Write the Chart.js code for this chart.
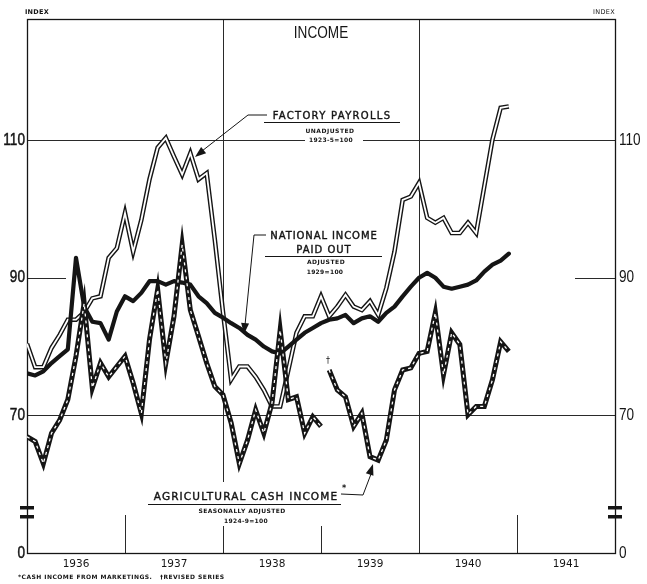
<!DOCTYPE html>
<html>
<head>
<meta charset="utf-8">
<title>Income</title>
<script src="https://cdn.jsdelivr.net/npm/chart.js@4.4.1/dist/chart.umd.min.js"></script>
<style>
  html, body { margin: 0; padding: 0; background: #fff; }
  #incomeChart { display: block; }
</style>
</head>
<body>
<canvas id="incomeChart" width="647" height="584"></canvas>
<script>
// monthly values, index 0 = Jan 1936
const years = ["1936", "1937", "1938", "1939", "1940", "1941"];
const yTicks = [50, 70, 90, 110]; // 50 sits on the broken axis and is printed as 0

const factoryPayrolls = [
  80.4, 77.0, 77.0, 79.8, 81.7, 83.9, 83.9, 85.0, 87.0, 87.3, 92.9, 94.3,
  99.4, 93.8, 98.4, 104.3, 108.9, 110.3, 107.6, 105.0, 108.1, 104.3, 105.2, 95.5,
  85.0, 75.2, 77.1, 77.1, 75.6, 73.7, 71.3, 71.3, 76.6, 82.0, 84.4, 84.4,
  87.3, 84.4, 85.8, 87.5, 85.8, 85.3, 86.6, 84.6, 88.5, 93.8, 101.3, 101.8,
  103.8, 98.7, 98.0, 98.7, 96.5, 96.5, 98.0, 96.5, 103.3, 110.1, 114.7, 114.9
];

const nationalIncome = [
  76.1, 75.8, 76.4, 77.6, 78.6, 79.6, 92.9, 85.8, 83.6, 83.4, 81.0, 85.1,
  87.3, 86.6, 87.8, 89.5, 89.5, 89.0, 89.5, 89.3, 89.0, 87.3, 86.3, 84.9,
  84.2, 83.4, 82.7, 81.7, 81.0, 80.0, 79.3, 79.0, 80.0, 81.0, 82.0, 82.7,
  83.4, 83.9, 84.1, 84.6, 83.4, 84.1, 84.4, 83.6, 84.9, 85.8, 87.3, 88.7,
  90.0, 90.7, 90.0, 88.7, 88.4, 88.7, 89.0, 89.6, 90.9, 91.9, 92.5, 93.5
];

// agricultural cash income, old series Jan 1936 - Jan 1939
const agCashOld = [
  66.9, 66.2, 63.0, 67.4, 69.3, 72.3, 78.6, 86.3, 74.0, 77.6, 75.6, 77.1,
  78.6, 74.7, 70.3, 81.0, 88.3, 77.6, 84.4, 94.8, 85.3, 81.5, 77.6, 74.2,
  73.0, 68.9, 63.0, 66.4, 70.8, 67.4, 71.8, 82.4, 72.3, 72.7, 67.4, 69.8,
  68.4
];
// revised series, from Feb 1939
const agCashRevisedStart = 37;
const agCashRevised = [
  76.6, 73.7, 72.7, 68.4, 70.3, 64.0, 63.5, 66.4, 73.7, 76.6, 76.9,
  79.0, 79.3, 84.9, 75.9, 82.0, 80.3, 70.1, 71.3, 71.3, 75.2, 80.7, 79.3
];

const INK = "#151515";
const SANS = '"Liberation Sans", Arial, sans-serif';
const LETTER = '"DejaVu Sans", "Liberation Sans", sans-serif';

function toPoints(values, start) {
  return values.map((v, i) => ({ x: start + i, y: v }));
}

// draws text, optionally squeezed sideways and thickened
function text(ctx, s, x, y, font, spacing, align, squeeze, heavy) {
  ctx.save();
  ctx.font = font;
  ctx.fillStyle = INK;
  ctx.strokeStyle = INK;
  ctx.textAlign = align || "center";
  ctx.textBaseline = "middle";
  ctx.letterSpacing = (spacing || 0) + "px";
  ctx.translate(x, y);
  ctx.scale(squeeze || 1, 1);
  ctx.fillText(s, 0, 0);
  if (heavy) {
    ctx.lineWidth = heavy;
    ctx.strokeText(s, 0, 0);
  }
  ctx.restore();
}

function line(ctx, pts, w) {
  ctx.save();
  ctx.strokeStyle = INK;
  ctx.lineWidth = w || 1;
  ctx.beginPath();
  ctx.moveTo(pts[0][0], pts[0][1]);
  for (let i = 1; i < pts.length; i++) ctx.lineTo(pts[i][0], pts[i][1]);
  ctx.stroke();
  ctx.restore();
}

function arrowHead(ctx, tx, ty, fx, fy) {
  const a = Math.atan2(ty - fy, tx - fx);
  const len = 11, half = 4;
  ctx.save();
  ctx.fillStyle = INK;
  ctx.beginPath();
  ctx.moveTo(tx, ty);
  ctx.lineTo(tx - len * Math.cos(a) + half * Math.sin(a), ty - len * Math.sin(a) - half * Math.cos(a));
  ctx.lineTo(tx - len * Math.cos(a) - half * Math.sin(a), ty - len * Math.sin(a) + half * Math.cos(a));
  ctx.closePath();
  ctx.fill();
  ctx.restore();
}

function whiteBox(ctx, x, y, w, h) {
  ctx.save();
  ctx.fillStyle = "#fff";
  ctx.fillRect(x, y, w, h);
  ctx.restore();
}

// frame, year lines, short 90 marks, labels and notes
const frame = {
  id: "frame",
  beforeDatasetsDraw(chart) {
    const { ctx, chartArea: a, scales } = chart;
    const xs = scales.x, ys = scales.y;
    ctx.save();
    ctx.strokeStyle = "#2a2a2a";
    ctx.lineWidth = 1;
    [12, 24, 36, 48, 60].forEach(m => {
      const px = Math.round(xs.getPixelForValue(m)) + 0.5;
      const full = m === 24 || m === 48;
      ctx.beginPath();
      ctx.moveTo(px, a.bottom);
      ctx.lineTo(px, full ? a.top : a.bottom - 38);
      ctx.stroke();
    });
    const y90 = Math.round(ys.getPixelForValue(90)) + 0.5;
    ctx.beginPath();
    ctx.moveTo(a.left, y90); ctx.lineTo(a.left + 39, y90);
    ctx.moveTo(a.right - 40, y90); ctx.lineTo(a.right, y90);
    ctx.stroke();
    ctx.lineWidth = 1.3;
    ctx.strokeStyle = INK;
    ctx.strokeRect(a.left + 0.5, a.top + 0.5, a.right - a.left, a.bottom - a.top);
    ctx.restore();
  },
  afterDraw(chart) {
    const { ctx, chartArea: a, scales } = chart;

    // y tick labels on both sides, narrow lettering
    scales.y.ticks.forEach(t => {
      const py = scales.y.getPixelForValue(t.value);
      const s = t.value === 50 ? "0" : String(t.value);
      text(ctx, s, a.left - 2, py, "17px " + SANS, 0, "right", 0.8, 0.5);
      text(ctx, s, a.right + 4, py, "17px " + SANS, 0, "left", 0.8);
    });

    // axis breaks
    ctx.save();
    ctx.fillStyle = INK;
    [a.left - 7, a.right - 7].forEach(x0 => {
      ctx.fillRect(x0, a.bottom - 47, 14, 3.5);
      ctx.fillRect(x0, a.bottom - 38, 14, 3.5);
    });
    ctx.restore();

    text(ctx, "INDEX", 37, 12, "bold 6.5px " + LETTER, 0.3);
    text(ctx, "INDEX", 604, 12, "6.5px " + LETTER, 0.3);
    text(ctx, "INCOME", 321, 33, "17px " + SANS, 0, "center", 0.8);

    // factory payrolls label
    whiteBox(ctx, 305, 135, 58, 10);
    text(ctx, "FACTORY PAYROLLS", 332, 116, "10px " + LETTER, 1.3, "center", 1, 0.4);
    line(ctx, [[264, 122.5], [400, 122.5]], 1.2);
    text(ctx, "UNADJUSTED", 330, 131, "bold 6px " + LETTER, 0.5);
    text(ctx, "1923-5=100", 331, 140, "bold 6px " + LETTER, 0.3);
    line(ctx, [[267, 115], [248, 115], [202, 151]]);
    arrowHead(ctx, 195, 157, 248, 115);

    // national income label
    text(ctx, "NATIONAL INCOME", 324, 236, "10px " + LETTER, 0.9, "center", 1, 0.4);
    text(ctx, "PAID OUT", 324, 250, "10px " + LETTER, 1.0, "center", 1, 0.4);
    line(ctx, [[265, 256.5], [382, 256.5]], 1.2);
    text(ctx, "ADJUSTED", 326, 262.5, "bold 6px " + LETTER, 0.5);
    text(ctx, "1929=100", 325, 272, "bold 6px " + LETTER, 0.3);
    line(ctx, [[266, 235], [254, 235], [245, 325]]);
    arrowHead(ctx, 244, 334, 254, 235);

    // agricultural label
    whiteBox(ctx, 146, 482, 198, 44);
    text(ctx, "AGRICULTURAL CASH INCOME", 246, 497, "10.5px " + LETTER, 1.15, "center", 1, 0.4);
    text(ctx, "*", 344, 489, "bold 8px " + LETTER, 0);
    line(ctx, [[148, 504.5], [341, 504.5]], 1.2);
    text(ctx, "SEASONALLY ADJUSTED", 242, 511.5, "bold 6px " + LETTER, 0.4);
    text(ctx, "1924-9=100", 246, 521, "bold 6px " + LETTER, 0.3);
    line(ctx, [[341, 494], [363, 495], [371, 474]]);
    arrowHead(ctx, 373, 464, 363, 495);

    text(ctx, "\u2020", 328, 361, "8px " + LETTER, 0);

    text(ctx, "*CASH INCOME FROM MARKETINGS.   \u2020REVISED SERIES", 18, 577, "bold 6px " + LETTER, 0.45, "left");
  }
};

document.addEventListener("DOMContentLoaded", function () {
  const yearTickValues = years.map((y, i) => 6 + 12 * i);

  const sharedY = {
    type: "linear",
    min: 50,
    max: 127.6,
    afterBuildTicks: s => { s.ticks = yTicks.map(v => ({ value: v })); },
    ticks: { display: false },
    border: { display: false },
  };

  const data = {
    datasets: [
      {
        label: "Agricultural cash income (dash)",
        data: toPoints(agCashOld, 0),
        borderColor: "#fff", borderWidth: 1.3, borderDash: [3, 4], order: 1,
      },
      {
        label: "Agricultural cash income revised (dash)",
        data: toPoints(agCashRevised, agCashRevisedStart),
        borderColor: "#fff", borderWidth: 1.3, borderDash: [3, 4], order: 1,
      },
      {
        label: "Agricultural cash income",
        data: toPoints(agCashOld, 0),
        borderColor: INK, borderWidth: 5, order: 2,
      },
      {
        label: "Agricultural cash income revised",
        data: toPoints(agCashRevised, agCashRevisedStart),
        borderColor: INK, borderWidth: 5, order: 2,
      },
      {
        label: "National income paid out",
        data: toPoints(nationalIncome, 0),
        borderColor: INK, borderWidth: 4.2, borderJoinStyle: "round", borderCapStyle: "round", order: 3,
      },
      {
        label: "Factory payrolls (inner)",
        data: toPoints(factoryPayrolls, 0),
        borderColor: "#fff", borderWidth: 1.8, order: 4,
      },
      {
        label: "Factory payrolls",
        data: toPoints(factoryPayrolls, 0),
        borderColor: INK, borderWidth: 4.6, order: 5,
      },
    ],
  };

  const config = {
    type: "line",
    data: data,
    options: {
      responsive: false,
      animation: false,
      devicePixelRatio: 1,
      layout: { padding: { top: 19, left: 0, right: 0, bottom: 0 } },
      elements: {
        point: { radius: 0 },
        line: { tension: 0, borderJoinStyle: "miter", fill: false },
      },
      plugins: {
        legend: { display: false },
        tooltip: { enabled: false },
      },
      scales: {
        x: {
          type: "linear",
          min: 0,
          max: 72,
          afterBuildTicks: s => { s.ticks = yearTickValues.map(v => ({ value: v })); },
          afterFit: s => { s.height = 31; },
          ticks: {
            callback: v => years[(v - 6) / 12],
            autoSkip: false,
            maxRotation: 0,
            padding: 5,
            font: { family: LETTER, size: 10.5 },
            color: INK,
          },
          grid: { display: false, drawTicks: false },
          border: { display: false },
        },
        y: Object.assign({}, sharedY, {
          position: "left",
          afterFit: s => { s.width = 27; },
          grid: {
            drawTicks: false,
            lineWidth: 1,
            color: c => (c.tick && (c.tick.value === 70 || c.tick.value === 110) ? "#2a2a2a" : "rgba(0,0,0,0)"),
          },
        }),
        y2: Object.assign({}, sharedY, {
          position: "right",
          afterFit: s => { s.width = 32; },
          grid: { display: false, drawTicks: false },
        }),
      },
    },
    plugins: [frame],
  };

  const ctx = document.getElementById("incomeChart").getContext("2d");
  const incomeChart = new Chart(ctx, config);
});
</script>
</body>
</html>
